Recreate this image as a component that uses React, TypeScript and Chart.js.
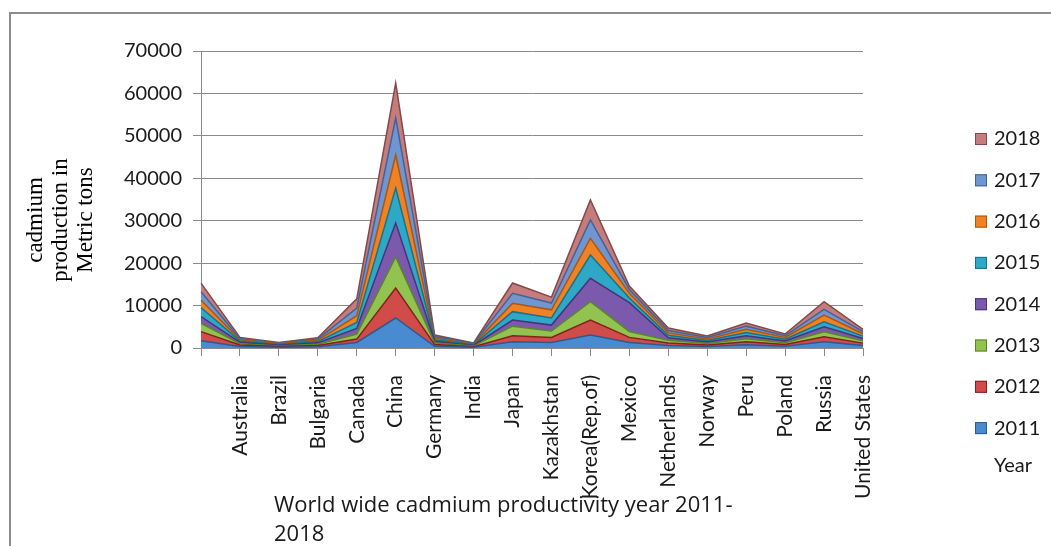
import React, { useEffect, useRef } from 'react';
import { Chart, registerables } from 'chart.js';

Chart.register(...registerables);

const countries = ['', 'Australia', 'Brazil', 'Bulgaria', 'Canada', 'China', 'Germany', 'India', 'Japan', 'Kazakhstan', 'Korea(Rep.of)', 'Mexico', 'Netherlands', 'Norway', 'Peru', 'Poland', 'Russia', 'United States'];

const years = ['2011', '2012', '2013', '2014', '2015', '2016', '2017', '2018'];

const y2011 = [1700, 350, 170, 310, 1300, 7070, 400, 160, 1490, 1300, 3060, 1300, 600, 360, 750, 420, 1490, 600];
const y2012 = [2150, 340, 170, 300, 800, 7070, 400, 150, 1370, 1200, 3540, 1200, 600, 350, 700, 410, 1180, 550];
const y2013 = [1970, 330, 160, 300, 1200, 7310, 390, 150, 2290, 1500, 4310, 1400, 600, 350, 750, 410, 1180, 550];
const y2014 = [1560, 320, 160, 300, 1300, 8010, 380, 150, 1450, 1400, 5520, 6800, 600, 350, 700, 410, 1170, 550];
const y2015 = [2170, 300, 160, 300, 1400, 8240, 370, 150, 1970, 1700, 5490, 1100, 580, 350, 750, 410, 1180, 550];
const y2016 = [1690, 290, 160, 300, 1600, 7790, 380, 150, 1950, 1900, 3930, 1100, 580, 350, 750, 410, 1580, 550];
const y2017 = [2000, 290, 160, 300, 1800, 8710, 370, 150, 2360, 1600, 4320, 900, 570, 350, 750, 410, 1330, 520];
const y2018 = [2050, 280, 160, 290, 2200, 8250, 370, 150, 2440, 1400, 4710, 800, 570, 350, 750, 420, 1800, 530];

const seriesValues = [y2011, y2012, y2013, y2014, y2015, y2016, y2017, y2018];

const fillColors = ['#4a8ad0', '#d04c49', '#92c250', '#7b5aae', '#2ea8c6', '#f08226', '#7096d0', '#c47c7c'];
const edgeColors = ['#2a5a92', '#861f1e', '#5a8526', '#4a3276', '#157489', '#ad560e', '#42639a', '#864848'];

const yTitleLines = ['cadmium', 'production in', 'Metric tons'];
const bottomTitleLines = ['World wide cadmium productivity year 2011-', '2018'];
const legendTitle = 'Year';

const decorPlugin = {
  id: 'decor',
  beforeDraw(chart: any) {
    const ctx = chart.ctx;
    ctx.save();
    ctx.strokeStyle = '#8c8c8c';
    ctx.lineWidth = 2;
    ctx.strokeRect(10, 13, 1200, 700);
    ctx.restore();
  },
  afterDraw(chart: any) {
    const ctx = chart.ctx;
    ctx.save();
    // y axis title
    ctx.fillStyle = '#000';
    ctx.font = '23px "Liberation Serif", "Times New Roman", serif';
    ctx.textAlign = 'center';
    ctx.textBaseline = 'middle';
    const xs = [36, 61, 86];
    yTitleLines.forEach((line, i) => {
      ctx.save();
      ctx.translate(xs[i], 220);
      ctx.rotate(-Math.PI / 2);
      ctx.fillText(line, 0, 0);
      ctx.restore();
    });
    // bottom title
    ctx.font = '22px "Open Sans", Lato, sans-serif';
    ctx.fillStyle = '#1a1a1a';
    ctx.textAlign = 'left';
    ctx.textBaseline = 'alphabetic';
    ctx.fillText(bottomTitleLines[0], 274, 512);
    ctx.fillText(bottomTitleLines[1], 274, 541);
    // legend
    ctx.font = '20px Lato, "Open Sans", sans-serif';
    const ds = chart.data.datasets;
    const n = ds.length;
    for (let k = 0; k < n; k++) {
      const i = n - 1 - k;
      const cy = 139 + k * 41.3;
      ctx.fillStyle = fillColors[i];
      ctx.fillRect(975, cy - 6, 12, 12);
      ctx.strokeStyle = edgeColors[i];
      ctx.lineWidth = 1;
      ctx.strokeRect(975.5, cy - 5.5, 11, 11);
      ctx.fillStyle = '#1a1a1a';
      ctx.textAlign = 'left';
      ctx.textBaseline = 'middle';
      ctx.fillText(ds[i].label, 994, cy);
    }
    ctx.textAlign = 'center';
    ctx.fillText(legendTitle, 1013, 466);
    ctx.restore();
  },
};

export default function App() {
  const ref = useRef<HTMLCanvasElement | null>(null);
  useEffect(() => {
    if (!ref.current) return;
    const datasets = seriesValues.map((vals, i) => ({
      label: years[i],
      data: vals,
      backgroundColor: fillColors[i],
      borderColor: edgeColors[i],
      borderWidth: 1.5,
      pointRadius: 0,
      tension: 0,
      fill: i === 0 ? 'origin' : '-1',
    }));
    const chart = new Chart(ref.current, {
      type: 'line',
      data: { labels: countries, datasets },
      plugins: [decorPlugin],
      options: {
        responsive: false,
        animation: false,
        layout: { padding: { left: 0, top: 51, right: 188, bottom: 48 } },
        plugins: {
          legend: { display: false },
          title: { display: false },
          tooltip: { enabled: false },
        },
        scales: {
          x: {
            offset: false,
            grid: { display: true, drawOnChartArea: false, drawTicks: true, tickLength: 8, color: '#8a8a8a' },
            border: { color: '#8a8a8a', width: 1 },
            ticks: {
              autoSkip: false,
              minRotation: 90,
              maxRotation: 90,
              padding: 19,
              color: '#1a1a1a',
              font: { family: 'Lato, "Open Sans", sans-serif', size: 21 },
            },
            afterFit: (scale: any) => { scale.height = 150; },
          },
          y: {
            stacked: true,
            min: 0,
            max: 70000,
            grid: { color: '#8a8a8a', lineWidth: 1, tickLength: 8, drawTicks: true },
            border: { color: '#8a8a8a', width: 1 },
            ticks: {
              stepSize: 10000,
              padding: 11,
              color: '#1a1a1a',
              font: { family: 'Lato, "Open Sans", sans-serif', size: 20 },
              callback: (v: any) => String(v),
            },
            afterFit: (scale: any) => { scale.width = 201; },
          },
        },
      },
    });
    return () => chart.destroy();
  }, []);
  return (
    <div style={{ position: 'absolute', left: 0, top: 0, width: 1051, height: 546, background: '#fff' }}>
      <canvas ref={ref} width={1051} height={546} />
    </div>
  );
}
